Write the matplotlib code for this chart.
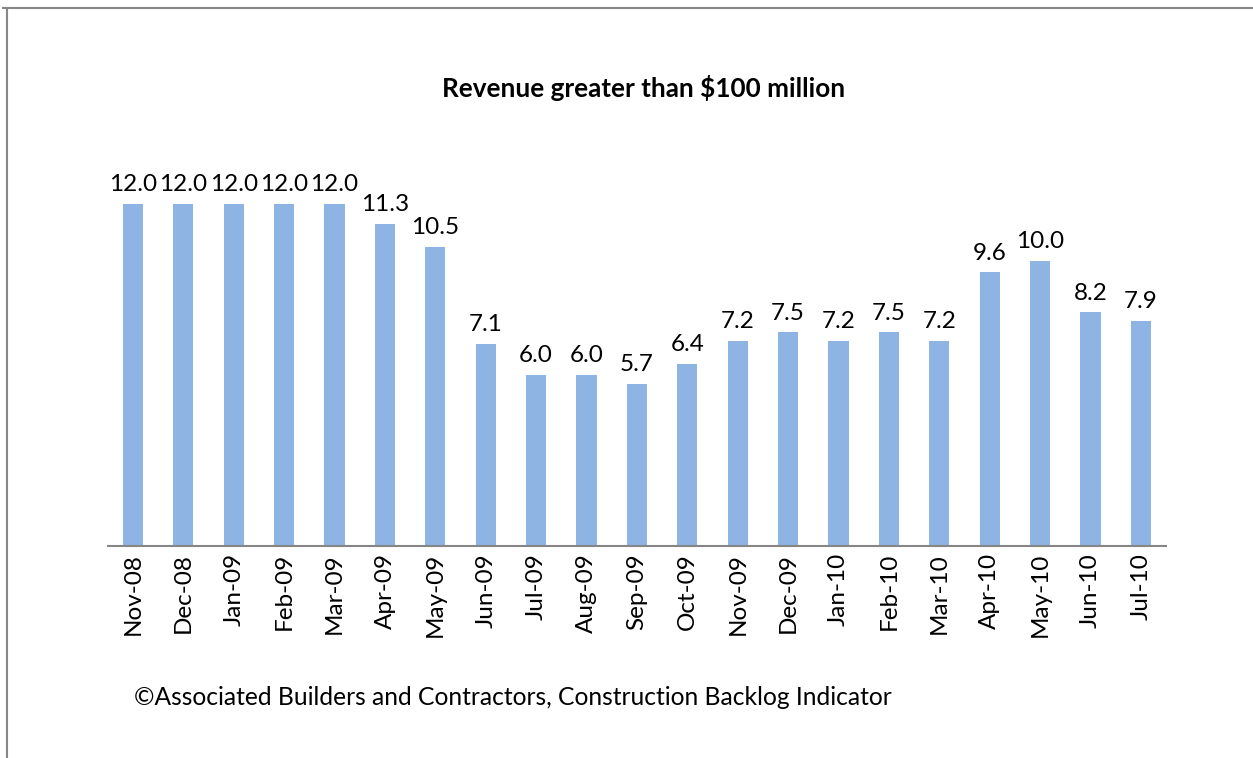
import matplotlib
matplotlib.use("Agg")
import matplotlib.pyplot as plt
from matplotlib.lines import Line2D

months = ["Nov-08", "Dec-08", "Jan-09", "Feb-09", "Mar-09", "Apr-09", "May-09",
          "Jun-09", "Jul-09", "Aug-09", "Sep-09", "Oct-09", "Nov-09", "Dec-09",
          "Jan-10", "Feb-10", "Mar-10", "Apr-10", "May-10", "Jun-10", "Jul-10"]
backlog = [12.0, 12.0, 12.0, 12.0, 12.0, 11.3, 10.5, 7.1, 6.0, 6.0, 5.7,
           6.4, 7.2, 7.5, 7.2, 7.5, 7.2, 9.6, 10.0, 8.2, 7.9]

plt.rcParams['font.family'] = ['Lato', 'DejaVu Sans']

fig = plt.figure(figsize=(12.53, 7.58), dpi=100)
ax = fig.add_axes([0.0860, 0.2797, 0.8447, 0.5264])

x = list(range(len(months)))
bars = ax.bar(x, backlog, width=0.4, color='#8eb4e3', edgecolor='none')
for xi, v in zip(x, backlog):
    ax.text(xi, v + 0.3, "%.1f" % v, ha='center', va='bottom', fontsize=17.5)

ax.set_xlim(-0.5, len(months) - 0.5)
ax.set_ylim(0, 14)
ax.set_xticks(x)
ax.set_xticklabels(months, rotation=90, fontsize=17.5)
ax.tick_params(axis='x', length=0, pad=5)
ax.set_yticks([])
for side in ['top', 'right', 'left']:
    ax.spines[side].set_visible(False)
ax.spines['bottom'].set_color('#868686')
ax.spines['bottom'].set_linewidth(1.5)

fig.text(0.514, 0.884, "Revenue greater than $100 million", ha='center', va='center',
         fontsize=18.8, fontweight='bold')
fig.text(0.107, 0.080, "\u00a9Associated Builders and Contractors, Construction Backlog Indicator",
         ha='left', va='center', fontsize=17.7)

# frame of the embedded chart
fig.add_artist(Line2D([3 / 1253, 1], [1 - 8 / 758, 1 - 8 / 758], color='#878787', lw=1.5))
fig.add_artist(Line2D([7 / 1253, 7 / 1253], [0, 1 - 8 / 758], color='#878787', lw=1.5))

fig.savefig("out.png", dpi=100)
